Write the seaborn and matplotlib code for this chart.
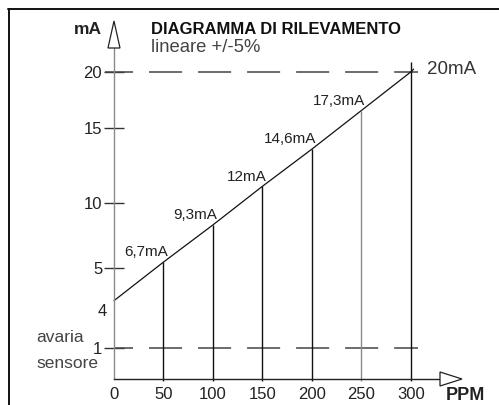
import numpy as np
import matplotlib
matplotlib.use("Agg")
import matplotlib.pyplot as plt
import seaborn as sns
from matplotlib.patches import Polygon
from matplotlib.lines import Line2D

# data
ppm = [0, 50, 100, 150, 200, 250, 300]
ma = [4.0, 6.7, 9.3, 12.0, 14.6, 17.3, 20.0]
point_labels = ["", "6,7mA", "9,3mA", "12mA", "14,6mA", "17,3mA", "20mA"]

# y tick labels as printed (hand placed, not to scale in the original)
ytick_labels = ["20", "15", "10", "5", "1"]
ytick_pos = [20.0, 16.09, 10.84, 6.29, 0.69]
xticks = [0, 50, 100, 150, 200, 250, 300]

sns.set_theme(style="white")
plt.rcParams["font.family"] = ["Liberation Sans", "DejaVu Sans"]
plt.rcParams["lines.scale_dashes"] = False

W, H = 499, 405
fig = plt.figure(figsize=(W / 100, H / 100), dpi=100)

# axes box in pixels: left 114, right 440, top 48, bottom 379
ax = fig.add_axes([114 / W, 1 - 379 / H, (440 - 114) / W, (379 - 48) / H])
px_per_ppm = (410.7 - 114) / 300
ax.set_xlim(0, (440 - 114) / px_per_ppm)
ax.set_ylim(-1.48, 21.68)
ax.patch.set_alpha(0)

for s in ["top", "right"]:
    ax.spines[s].set_visible(False)
ax.spines["left"].set_color("#8a8a8a")
ax.spines["left"].set_linewidth(1.0)
ax.spines["bottom"].set_color("#222222")
ax.spines["bottom"].set_linewidth(1.0)

# dashed reference lines at 20 mA and at the fault level (1 mA)
on, off = 23.8, 11.5
ax.plot([-9, 307], [20, 20], ls=(3.6, (on, off)), color="#444444", lw=1.1,
        clip_on=False)
ax.plot([0, 307], [ytick_pos[-1]] * 2, ls=(10.1, (on, off)), color="#444444",
        lw=1.1, clip_on=False)

# vertical drop lines under each point
vcolors = ["#111111", "#111111", "#111111", "#111111", "#8a8a8a", "#111111"]
tops = list(ma[1:])
tops[-1] = 20.7
ax.vlines(ppm[1:], -1.62, tops, colors=vcolors, lw=1.0, clip_on=False)

# the calibration line
sns.lineplot(x=ppm + [303], y=ma + [20.2], ax=ax, color="#111111", lw=0.9,
             clip_on=False)

# point labels
for x, y, t in zip(ppm[1:-1], ma[1:-1], point_labels[1:-1]):
    ax.annotate(t, (x, y), xytext=(3, 2), textcoords="offset points",
                ha="right", va="bottom", fontsize=11, color="#222222")
ax.annotate(point_labels[-1], (300, 20), xytext=(12, 2),
            textcoords="offset points", ha="left", va="center",
            fontsize=13.5, color="#333333")

ax.set_xticks(xticks)
ax.set_xticklabels([str(v) for v in xticks], fontsize=12, color="#222222")
ax.set_yticks(ytick_pos)
ax.set_yticklabels(ytick_labels, fontsize=12, color="#222222")
ax.tick_params(axis="y", direction="inout", length=15, width=1.0,
               color="#333333", pad=1, left=True)
ax.tick_params(axis="x", length=0, pad=6)

ax.text(-7, 3.21, "4", ha="right", va="center", fontsize=12,
        color="#222222")

def fpt(x, y):
    return (x / W, 1 - y / H)

fig.text(*fpt(36, 338), "avaria", ha="left", va="center", fontsize=12.5,
         color="#444444")
fig.text(*fpt(36, 363), "sensore", ha="left", va="center", fontsize=12.5,
         color="#444444")

# open arrow heads on both axes
fig.add_artist(Polygon([fpt(108, 48), fpt(120, 48), fpt(114, 21)],
                       closed=True, fc="white", ec="#222222", lw=0.9,
                       transform=fig.transFigure))
fig.add_artist(Polygon([fpt(440, 372), fpt(440, 386), fpt(462, 379)],
                       closed=True, fc="white", ec="#222222", lw=0.9,
                       transform=fig.transFigure))

fig.text(*fpt(102, 29), "mA", ha="right", va="center", fontsize=12.5,
         fontweight="bold", color="#222222")
fig.text(*fpt(446, 396), "PPM", ha="left", va="center", fontsize=13,
         fontweight="bold", color="#222222")
fig.text(*fpt(151, 29), "DIAGRAMMA DI RILEVAMENTO", ha="left", va="center",
         fontsize=12, fontweight="bold", color="#111111")
fig.text(*fpt(151, 47), "lineare +/-5%", ha="left", va="center",
         fontsize=13.3, color="#444444")

# outer frame (cropped at right and bottom)
fig.add_artist(Line2D([8 / W, 1], [1 - 8.5 / H] * 2, color="#111111", lw=1.4,
                      transform=fig.transFigure))
fig.add_artist(Line2D([8.5 / W] * 2, [0, 1 - 8.5 / H], color="#111111", lw=1.4,
                      transform=fig.transFigure))

ax.set_xlabel("")
ax.set_ylabel("")
fig.savefig("out.png", dpi=100)
